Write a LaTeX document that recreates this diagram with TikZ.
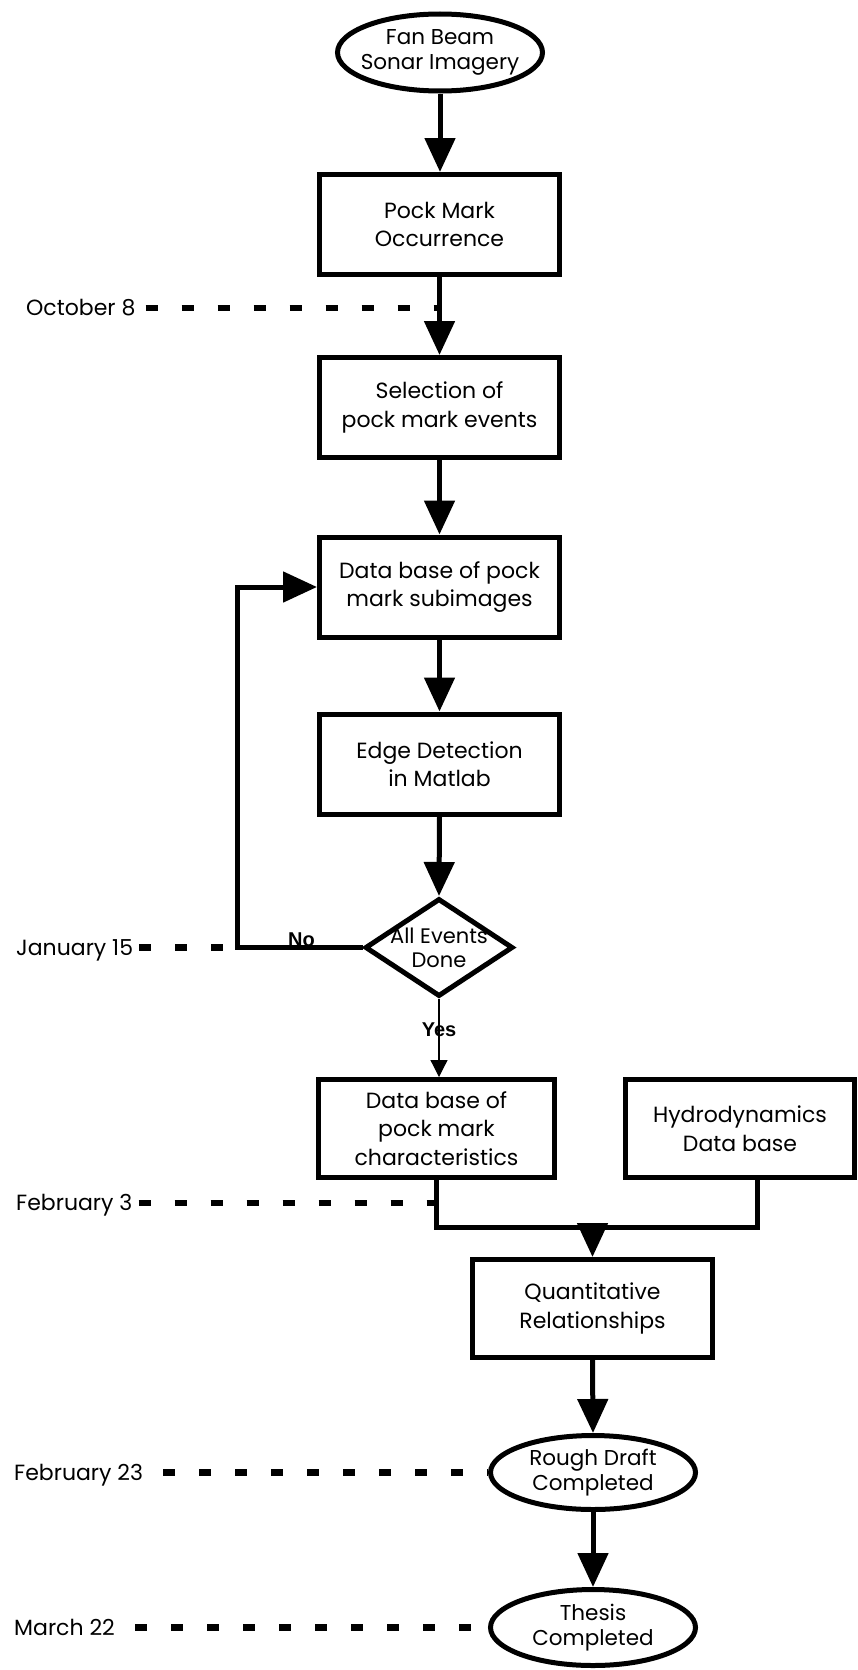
\documentclass[tikz,border=0pt]{standalone}
\usepackage{fontspec}
\setmainfont{Poppins}
\newfontfamily\helv{Liberation Sans}
\usetikzlibrary{arrows.meta,shapes.geometric,calc}
\begin{document}
\begin{tikzpicture}[x=1pt,y=-1pt,
  every node/.style={font=\fontsize{22}{28.5}\selectfont},
  box/.style={draw, line width=5pt, rectangle, minimum width=240pt, minimum height=100pt, inner sep=0pt, align=center},
  oval/.style={draw, line width=5pt, ellipse, inner sep=-20pt, align=center, font=\fontsize{21.5}{25}\selectfont},
  decision/.style={draw, line width=5pt, diamond, inner sep=-20pt, align=center, font=\fontsize{21}{24}\selectfont},
  arr/.style={line width=5pt, -{Triangle[width=30pt,length=34pt]}},
  thinarr/.style={line width=1.2pt, -{Triangle[width=17pt,length=17pt]}},
  link/.style={line width=5pt},
  datedash/.style={line width=6.5pt, dash pattern=on 12pt off 24pt},
  datelab/.style={anchor=west, inner sep=0pt, text height=15pt, text depth=0pt},
  yn/.style={font=\helv\bfseries\fontsize{20}{24}\selectfont, inner sep=0pt, anchor=base}
]
\path[fill=white,use as bounding box] (0,0) rectangle (857,1670);

% main nodes
\node[oval, minimum width=205pt, minimum height=77pt] (e1) at (440,52.5) {Fan Beam\\Sonar Imagery};
\node[box] (b1) at (439.5,224.5) {Pock Mark\\Occurrence};
\node[box] (b2) at (439.5,407.5) {Selection of\\pock mark events};
\node[box] (b3) at (439.5,587) {Data base of pock\\mark subimages};
\node[box] (b4) at (439.5,764) {Edge Detection\\in Matlab};
\node[decision, minimum width=148pt, minimum height=98pt] (dia) at (439,947.5) {All Events\\Done};
\node[box, minimum width=236pt, minimum height=98pt] (b5) at (436.5,1128.5) {\fontsize{22}{27}\selectfont Data base of\\pock mark\\characteristics};
\node[box, minimum width=229pt, minimum height=98pt] (hyd) at (740,1128.5) {Hydrodynamics\\Data base};
\node[box, minimum height=98pt] (b7) at (592.5,1308.5) {Quantitative\\Relationships};
\node[oval, minimum width=205pt, minimum height=74pt] (e2) at (593,1472.5) {Rough Draft\\Completed};
\node[oval, minimum width=205pt, minimum height=76pt] (e3) at (593,1627.5) {Thesis\\Completed};

% date labels
\node[datelab] (oct) at (26,308) {October 8};
\node[datelab] (jan) at (16,947.5) {January 15};
\node[datelab] (feb3) at (16,1203) {February 3};
\node[datelab] (feb23) at (14,1472.5) {February 23};
\node[datelab] (mar) at (14,1627.5) {March 22};

% helper coordinates
\coordinate (lp) at (237,947.5);
\coordinate (mg) at (592.5,1227);
\coordinate (hj) at ([xshift=17pt]hyd.south);

% date dashes
\draw[datedash] ([xshift=10pt]oct.east) -- (oct.east -| b1.south);
\draw[datedash] ([xshift=6pt]jan.east) -- (jan.east -| lp);
\draw[datedash] ([xshift=6pt]feb3.east) -- (feb3.east -| b5.south);
\draw[datedash] ([xshift=20pt]feb23.east) -- (e2.west);
\draw[datedash] ([xshift=20pt]mar.east) -- (e3.west);

% connectors
\draw[arr] (e1.south) -- (e1.south |- b1.north);
\draw[arr] (b1.south) -- (b2.north);
\draw[arr] (b2.south) -- (b3.north);
\draw[arr] (b3.south) -- (b4.north);
\draw[arr] (b4.south) -- (dia.north);
\draw[arr] (dia.west) -- (lp) |- (b3.west);
\draw[thinarr] (dia.south) -- (dia.south |- b5.north);
\draw[link] (b5.south) |- (mg) -| (hj);
\draw[arr] (mg) -- (b7.north);
\draw[arr] (b7.south) -- (e2.north);
\draw[arr] (e2.south) -- (e3.north);

% branch labels
\node[yn] (no) at (301.5,946) {No};
\node[yn] (yes) at (439,1036) {Yes};
\end{tikzpicture}
\end{document}
